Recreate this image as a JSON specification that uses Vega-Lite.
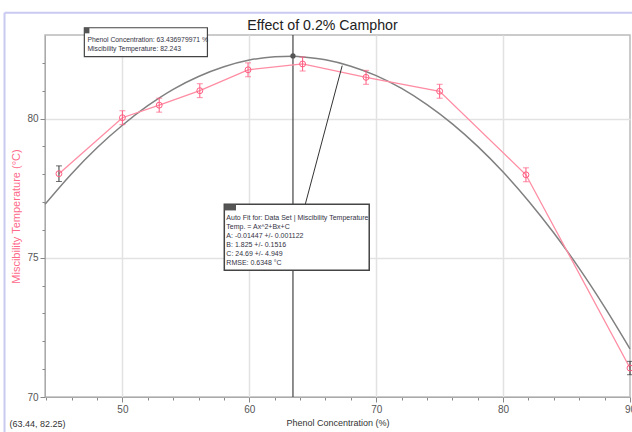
{
  "$schema": "https://vega.github.io/schema/vega-lite/v6.json",
  "width": 585,
  "height": 362,
  "autosize": {"type": "none"},
  "padding": {"left": 45, "top": 35, "right": 2, "bottom": 35},
  "background": "white",
  "data": {"values": [{}]},
  "config": {
    "font": "Liberation Sans",
    "view": {"stroke": "#bbbbbb", "strokeWidth": 1.5},
    "axis": {
      "labelFontSize": 10,
      "labelColor": "#555555",
      "tickColor": "#888888",
      "domainColor": "#aaaaaa",
      "gridColor": "#e2e2e2",
      "gridWidth": 1.5,
      "titleFontWeight": "normal",
      "labelOverlap": false
    }
  },
  "title": {
    "text": "Effect of 0.2% Camphor",
    "fontSize": 14.2,
    "fontWeight": "normal",
    "color": "#222222",
    "baseline": "alphabetic",
    "offset": 5,
    "dx": -15,
    "dy": 37
  },
  "datasets": {
    "measured": [
      {"conc": 45.0, "temp": 78.02, "lo": 77.74, "hi": 78.30},
      {"conc": 50.0, "temp": 80.03, "lo": 79.78, "hi": 80.28},
      {"conc": 52.9, "temp": 80.48, "lo": 80.23, "hi": 80.73},
      {"conc": 56.1, "temp": 81.0, "lo": 80.75, "hi": 81.25},
      {"conc": 59.9, "temp": 81.75, "lo": 81.5, "hi": 82.0},
      {"conc": 64.2, "temp": 81.96, "lo": 81.71, "hi": 82.21},
      {"conc": 69.2, "temp": 81.48, "lo": 81.23, "hi": 81.73},
      {"conc": 75.0, "temp": 80.98, "lo": 80.73, "hi": 81.23},
      {"conc": 81.8, "temp": 77.98, "lo": 77.73, "hi": 78.23},
      {"conc": 90.0, "temp": 71.04, "lo": 70.8, "hi": 71.28}
    ],
    "fit": [
      {"conc": 43.9, "temp": 76.92},
      {"conc": 46, "temp": 78.02},
      {"conc": 48, "temp": 78.95},
      {"conc": 50, "temp": 79.76},
      {"conc": 52, "temp": 80.46},
      {"conc": 54, "temp": 81.05},
      {"conc": 56, "temp": 81.51},
      {"conc": 58, "temp": 81.86},
      {"conc": 60, "temp": 82.10},
      {"conc": 62, "temp": 82.22},
      {"conc": 63.44, "temp": 82.24},
      {"conc": 64, "temp": 82.22},
      {"conc": 66, "temp": 82.11},
      {"conc": 68, "temp": 81.88},
      {"conc": 70, "temp": 81.54},
      {"conc": 72, "temp": 81.08},
      {"conc": 74, "temp": 80.50},
      {"conc": 76, "temp": 79.81},
      {"conc": 78, "temp": 79.00},
      {"conc": 80, "temp": 78.08},
      {"conc": 82, "temp": 77.04},
      {"conc": 84, "temp": 75.89},
      {"conc": 86, "temp": 74.62},
      {"conc": 88, "temp": 73.23},
      {"conc": 90, "temp": 71.73}
    ]
  },
  "layer": [
    {
      "data": {"name": "fit"},
      "mark": {"type": "line", "color": "#808080", "strokeWidth": 1.5, "interpolate": "monotone"},
      "encoding": {
        "x": {
          "field": "conc", "type": "quantitative",
          "scale": {"domain": [43.9, 90], "nice": false, "zero": false},
          "axis": {
            "orient": "bottom",
            "values": [44, 46, 48, 50, 52, 54, 56, 58, 60, 62, 64, 66, 68, 70, 72, 74, 76, 78, 80, 82, 84, 86, 88, 90],
            "tickCount": 100,
            "format": "d",
            "labelExpr": "indexof([50, 60, 70, 80, 90], datum.value) >= 0 ? datum.label : ''",
            "labelOverlap": false,
            "labelBound": false,
            "labelFlush": false,
            "tickSize": {"condition": {"test": "indexof([50, 60, 70, 80, 90], datum.value) >= 0", "value": 5}, "value": 3},
            "gridOpacity": {"condition": {"test": "indexof([50, 60, 70, 80], datum.value) >= 0", "value": 1}, "value": 0},
            "title": "Phenol Concentration (%)", "titleFontSize": 9, "titleColor": "#333333", "titlePadding": 4,
            "labelPadding": 2, "grid": true
          }
        },
        "y": {
          "field": "temp", "type": "quantitative",
          "scale": {"domain": [70, 83], "nice": false, "zero": false},
          "axis": {
            "orient": "left",
            "values": [70, 71, 72, 73, 74, 75, 76, 77, 78, 79, 80, 81, 82],
            "tickCount": 100,
            "format": "d",
            "labelExpr": "indexof([70, 75, 80], datum.value) >= 0 ? datum.label : ''",
            "labelOverlap": false,
            "labelBound": false,
            "labelFlush": false,
            "tickSize": {"condition": {"test": "indexof([70, 75, 80], datum.value) >= 0", "value": 5}, "value": 3},
            "gridOpacity": {"condition": {"test": "indexof([75, 80], datum.value) >= 0", "value": 1}, "value": 0},
            "title": "Miscibility Temperature (°C)", "titleFontSize": 11, "titleColor": "#ff6a8a", "titlePadding": 5,
            "labelPadding": 2, "grid": true
          }
        }
      }
    },
    {
      "mark": {"type": "rule", "color": "#444444", "strokeWidth": 1.2},
      "encoding": {"x": {"datum": 63.44, "type": "quantitative"}}
    },
    {
      "mark": {"type": "point", "filled": true, "color": "#555555", "size": 28, "opacity": 1},
      "encoding": {"x": {"datum": 63.44, "type": "quantitative"}, "y": {"datum": 82.25, "type": "quantitative"}}
    },
    {
      "data": {"name": "measured"},
      "mark": {"type": "line", "color": "#ff8ca3", "strokeWidth": 1.3},
      "encoding": {"x": {"field": "conc", "type": "quantitative"}, "y": {"field": "temp", "type": "quantitative"}}
    },
    {
      "data": {"name": "measured"},
      "mark": {"type": "rule", "strokeWidth": 1},
      "encoding": {
        "x": {"field": "conc", "type": "quantitative"},
        "y": {"field": "lo", "type": "quantitative"},
        "y2": {"field": "hi"},
        "color": {"condition": {"test": "datum.conc == 45 || datum.conc == 90", "value": "#333333"}, "value": "#ff5c80"}
      }
    },
    {
      "data": {"name": "measured"},
      "mark": {"type": "tick", "orient": "horizontal", "size": 6, "thickness": 1},
      "encoding": {
        "x": {"field": "conc", "type": "quantitative"},
        "y": {"field": "lo", "type": "quantitative"},
        "color": {"condition": {"test": "datum.conc == 45 || datum.conc == 90", "value": "#333333"}, "value": "#ff5c80"}
      }
    },
    {
      "data": {"name": "measured"},
      "mark": {"type": "tick", "orient": "horizontal", "size": 6, "thickness": 1},
      "encoding": {
        "x": {"field": "conc", "type": "quantitative"},
        "y": {"field": "hi", "type": "quantitative"},
        "color": {"condition": {"test": "datum.conc == 45 || datum.conc == 90", "value": "#333333"}, "value": "#ff5c80"}
      }
    },
    {
      "data": {"name": "measured"},
      "mark": {"type": "point", "filled": false, "color": "#ff5c80", "size": 35, "strokeWidth": 1, "opacity": 1},
      "encoding": {"x": {"field": "conc", "type": "quantitative"}, "y": {"field": "temp", "type": "quantitative"}}
    },
    {
      "mark": {"type": "rule", "color": "#333333", "strokeWidth": 1},
      "encoding": {
        "x": {"datum": 64.41, "type": "quantitative"},
        "y": {"datum": 76.92, "type": "quantitative"},
        "x2": {"datum": 67.32},
        "y2": {"datum": 81.9}
      }
    },
    {
      "mark": {"type": "rect", "fill": "white", "stroke": "#444444", "strokeWidth": 1.2, "clip": false},
      "encoding": {
        "x": {"datum": 47.0, "type": "quantitative"},
        "x2": {"datum": 56.7},
        "y": {"datum": 83.26, "type": "quantitative"},
        "y2": {"datum": 82.22}
      }
    },
    {
      "mark": {"type": "rect", "fill": "#555555", "clip": false},
      "encoding": {
        "x": {"datum": 47.0, "type": "quantitative"},
        "x2": {"datum": 47.4},
        "y": {"datum": 83.26, "type": "quantitative"},
        "y2": {"datum": 83.06}
      }
    },
    {
      "mark": {"type": "text", "text": ["Phenol Concentration: 63.436979971 %", "Miscibility Temperature: 82.243"], "fontSize": 6.8, "lineHeight": 9, "align": "left", "baseline": "top", "color": "#333344"},
      "encoding": {"x": {"datum": 47.24, "type": "quantitative"}, "y": {"datum": 82.94, "type": "quantitative"}}
    },
    {
      "mark": {"type": "rect", "fill": "white", "stroke": "#444444", "strokeWidth": 1.5},
      "encoding": {
        "x": {"datum": 58.03, "type": "quantitative"},
        "x2": {"datum": 69.45},
        "y": {"datum": 76.92, "type": "quantitative"},
        "y2": {"datum": 74.55}
      }
    },
    {
      "mark": {"type": "rect", "fill": "#555555"},
      "encoding": {
        "x": {"datum": 58.03, "type": "quantitative"},
        "x2": {"datum": 58.95},
        "y": {"datum": 76.92, "type": "quantitative"},
        "y2": {"datum": 76.7}
      }
    },
    {
      "mark": {"type": "text", "text": ["Auto Fit for: Data Set | Miscibility Temperature", "Temp. = Ax^2+Bx+C", "A: -0.01447 +/- 0.001122", "B: 1.825 +/- 0.1516", "C: 24.69 +/- 4.949", "RMSE: 0.6348 °C"], "fontSize": 7, "lineHeight": 9, "align": "left", "baseline": "top", "color": "#333344"},
      "encoding": {"x": {"datum": 58.19, "type": "quantitative"}, "y": {"datum": 76.56, "type": "quantitative"}}
    },
    {
      "mark": {"type": "text", "text": "(63.44, 82.25)", "fontSize": 9, "align": "left", "baseline": "middle", "color": "#333333", "clip": false},
      "encoding": {"x": {"datum": 41.1, "type": "quantitative"}, "y": {"datum": 69.03, "type": "quantitative"}}
    },
    {
      "mark": {"type": "rule", "color": "#c9c9f2", "strokeWidth": 2, "clip": false},
      "encoding": {
        "x": {"datum": 40.71, "type": "quantitative"},
        "y": {"datum": 83.8, "type": "quantitative"},
        "x2": {"datum": 40.71},
        "y2": {"datum": 68.7}
      }
    },
    {
      "mark": {"type": "rule", "color": "#c9c9f2", "strokeWidth": 2, "clip": false},
      "encoding": {
        "x": {"datum": 40.71, "type": "quantitative"},
        "y": {"datum": 83.8, "type": "quantitative"},
        "x2": {"datum": 90.2},
        "y2": {"datum": 83.8}
      }
    }
  ]
}
